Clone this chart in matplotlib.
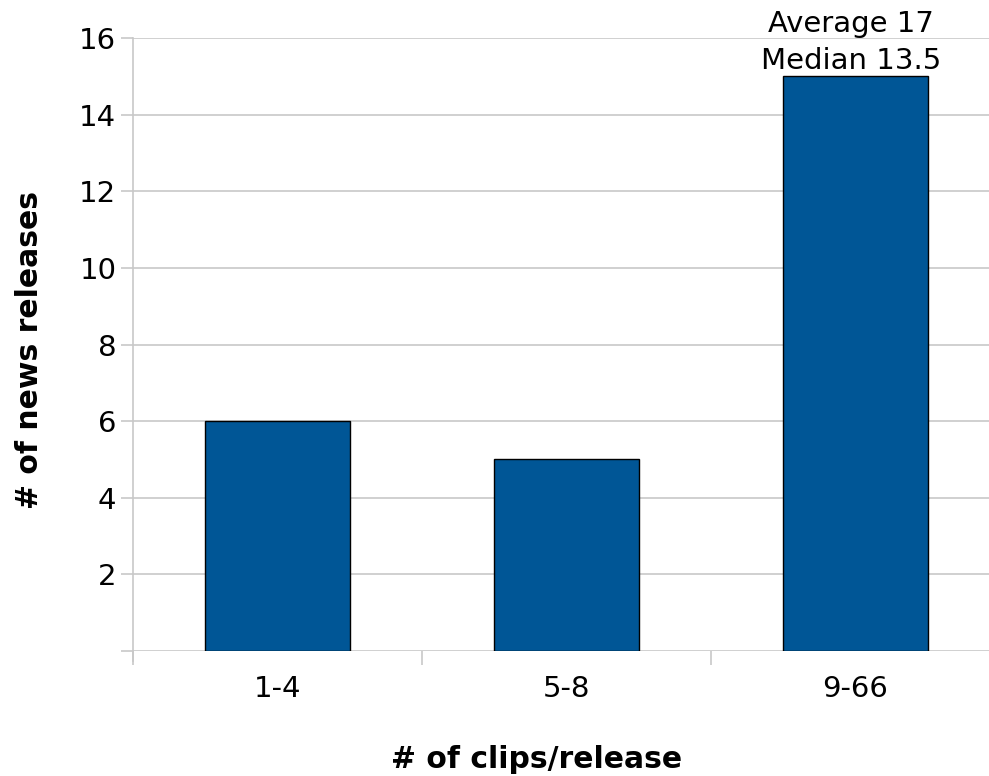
import matplotlib.pyplot as plt

categories = ['1-4', '5-8', '9-66']
releases = [6, 5, 15]
yticks = [2, 4, 6, 8, 10, 12, 14, 16]
note = 'Average 17\nMedian 13.5'

fig = plt.figure(figsize=(9.89, 7.76), dpi=100)
ax = fig.add_axes([133/989, 125/776, 867/989, 613/776])

xs = list(range(len(categories)))
ax.bar(xs, releases, width=0.5, color='#005696', edgecolor='black', linewidth=1, zorder=3)

ax.set_xlim(-0.5, 2.5)
ax.set_ylim(0, 16)
ax.set_yticks(yticks)
ax.set_yticks([0], minor=True)
ax.set_xticks(xs)
ax.set_xticklabels(categories)
ax.set_xticks([-0.5, 0.5, 1.5], minor=True)
ax.tick_params(axis='x', which='major', length=0, pad=17, labelsize=21)
ax.tick_params(axis='x', which='minor', length=10, color='#c8c8c8', width=1.2)
ax.tick_params(axis='y', which='both', length=9, color='#c8c8c8', width=1.2, labelsize=21, pad=3)
ax.yaxis.grid(True, which='both', color='#c8c8c8', linewidth=1.2, zorder=0)

for s in ['top', 'right', 'bottom']:
    ax.spines[s].set_visible(False)
ax.spines['left'].set_color('#c8c8c8')
ax.spines['left'].set_linewidth(1.2)
ax.spines['left'].set_bounds(-0.25, 16)

ax.annotate(note, xy=(2, releases[2]), xytext=(-3, 1), textcoords='offset points',
            ha='center', va='bottom', fontsize=21, linespacing=1.4)

fig.text(30/989, 1 - 350/776, '# of news releases', rotation=90, ha='center', va='center',
         fontsize=21.5, fontweight='bold')
fig.text(537/989, 1 - 760/776, '# of clips/release', ha='center', va='center',
         fontsize=21.5, fontweight='bold')

fig.savefig('out.png', dpi=100)
